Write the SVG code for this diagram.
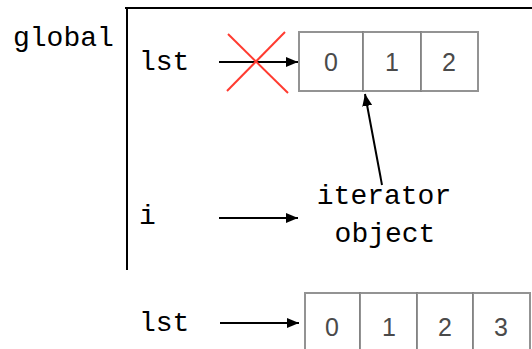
<svg xmlns="http://www.w3.org/2000/svg" width="532" height="349" viewBox="0 0 532 349">
<style>
.mono{font-family:"Liberation Mono","Courier New",monospace;font-size:28px;fill:#000}
.dig{font-family:"Liberation Sans",Arial,sans-serif;font-size:25px;fill:#4a4a4a;text-anchor:middle}
.cell{fill:#fff;stroke:#808080;stroke-opacity:0.85;stroke-width:2}
.conn{stroke:#000;stroke-width:2;fill:none;marker-end:url(#ah)}
.frame{stroke:#000;stroke-width:2;fill:none}
</style>
<defs>
<marker id="ah" viewBox="0 0 12 10" refX="12" refY="5" markerWidth="12" markerHeight="10" markerUnits="userSpaceOnUse" orient="auto">
<path d="M0,0 L12,5 L0,10 Z" fill="#000"/>
</marker>
</defs>
<g id="frame">
<path class="frame" d="M125,8 H532 M127,8 V270"/>
<text class="mono" x="13" y="46">global</text>
</g>
<g id="var-lst-top"><text class="mono" x="139" y="70">lst</text></g>
<g id="var-i"><text class="mono" x="139" y="224">i</text></g>
<g id="list-top">
<rect class="cell" x="299" y="32" width="64" height="59"/>
<rect class="cell" x="363" y="32" width="58" height="59"/>
<rect class="cell" x="421" y="32" width="57" height="59"/>
<text class="dig" x="331" y="71">0</text>
<text class="dig" x="392" y="71">1</text>
<text class="dig" x="449" y="71">2</text>
</g>
<g id="iterator">
<text class="mono" x="384" y="204" text-anchor="middle">iterator</text>
<text class="mono" x="385" y="242" text-anchor="middle">object</text>
</g>
<g id="var-lst-bottom"><text class="mono" x="139" y="331">lst</text></g>
<g id="list-bottom">
<rect class="cell" x="305" y="293" width="55" height="70"/>
<rect class="cell" x="360" y="293" width="57" height="70"/>
<rect class="cell" x="417" y="293" width="56" height="70"/>
<rect class="cell" x="473" y="293" width="57" height="70"/>
<text class="dig" x="332" y="336">0</text>
<text class="dig" x="389" y="336">1</text>
<text class="dig" x="445" y="336">2</text>
<text class="dig" x="501" y="336">3</text>
</g>
<g id="connectors">
<line class="conn" x1="219" y1="62" x2="298" y2="62"/>
<line class="conn" x1="382" y1="185" x2="365" y2="94"/>
<line class="conn" x1="219" y1="218" x2="298" y2="218"/>
<line class="conn" x1="220" y1="323" x2="299" y2="323"/>
</g>
<g id="cross">
<line x1="228" y1="34" x2="288" y2="93" stroke="#ff3b30" stroke-width="2"/>
<line x1="285" y1="32" x2="227" y2="91" stroke="#ff3b30" stroke-width="2"/>
</g>
</svg>
